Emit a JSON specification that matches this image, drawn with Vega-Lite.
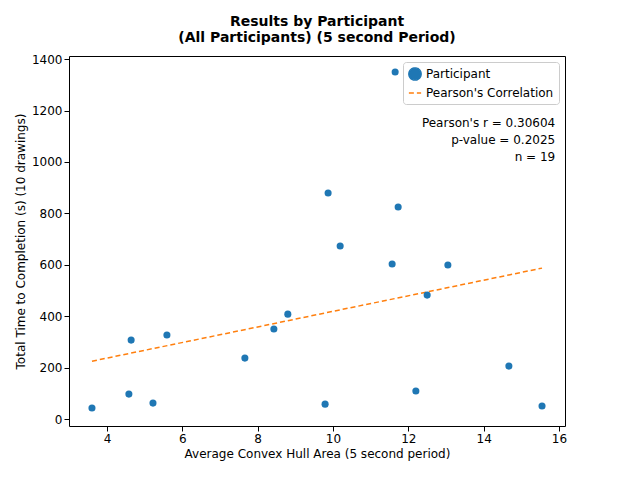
{
"$schema":"https://vega.github.io/schema/vega-lite/v6.json",
"width":496,"height":370,
"padding":{"left":14,"top":15,"right":60,"bottom":5},
"autosize":{"type":"pad"},
"config":{"font":"DejaVu Sans","view":{"stroke":"black"},"axis":{"grid":false,"domain":false,"tickColor":"black","labelColor":"black","titleColor":"black","labelFontSize":12,"titleFontSize":12,"titleFontWeight":"normal","labelFont":"DejaVu Sans","titleFont":"DejaVu Sans"}},
"title":{"text":["Results by Participant","(All Participants) (5 second Period)"],"fontSize":14,"font":"DejaVu Sans","fontWeight":"bold","color":"black","offset":8},
"datasets":{
"pts":[
{"x":3.60,"y":43},{"x":4.58,"y":97},{"x":4.64,"y":307},{"x":5.22,"y":62},{"x":5.59,"y":327},
{"x":7.66,"y":237},{"x":8.43,"y":350},{"x":8.80,"y":408},{"x":9.87,"y":879},{"x":9.79,"y":58},
{"x":10.19,"y":673},{"x":11.57,"y":603},{"x":11.73,"y":825},{"x":11.65,"y":1350},{"x":12.20,"y":109},
{"x":12.50,"y":482},{"x":13.05,"y":599},{"x":14.67,"y":206},{"x":15.55,"y":51}],
"fit":[{"x":3.60,"y":225},{"x":15.55,"y":587}]
},
"layer":[
{"data":{"name":"fit"},"mark":{"type":"line","strokeWidth":1.5},
"encoding":{"x":{"field":"x","type":"quantitative","scale":{"domain":[2.99,16.16],"nice":false,"zero":false},"axis":{"values":[4,6,8,10,12,14,16],"title":"Average Convex Hull Area (5 second period)"}},
"y":{"field":"y","type":"quantitative","scale":{"domain":[-27,1412],"nice":false},"axis":{"values":[0,200,400,600,800,1000,1200,1400],"format":"d","title":"Total Time to Completion (s) (10 drawings)"}},
"color":{"datum":"Pearson's Correlation","type":"nominal","scale":{"domain":["Participant","Pearson's Correlation"],"range":["#1f77b4","#ff7f0e"]},
"legend":{"title":null,"orient":"top-right","offset":6,"labelFontSize":12,"labelColor":"black","symbolSize":150,"strokeColor":"#cccccc","padding":5,"cornerRadius":3,"fillColor":"white","symbolStrokeWidth":1.5}},
"shape":{"datum":"Pearson's Correlation","type":"nominal","scale":{"domain":["Participant","Pearson's Correlation"],"range":["circle","stroke"]}},
"strokeDash":{"datum":"Pearson's Correlation","type":"nominal","scale":{"domain":["Participant","Pearson's Correlation"],"range":[[1,0],[5,3]]}}}},
{"data":{"name":"pts"},"mark":{"type":"point","filled":true,"size":50,"opacity":1},
"encoding":{"x":{"field":"x","type":"quantitative"},"y":{"field":"y","type":"quantitative"},
"color":{"datum":"Participant","type":"nominal"},
"shape":{"datum":"Participant","type":"nominal"}}},
{"data":{"values":[{"t":"Pearson's r = 0.30604","y":1150},{"t":"p-value = 0.2025","y":1085},{"t":"n = 19","y":1020}]},
"mark":{"type":"text","align":"right","fontSize":12,"color":"black","font":"DejaVu Sans"},
"encoding":{"x":{"datum":15.9,"type":"quantitative"},"y":{"field":"y","type":"quantitative"},"text":{"field":"t"}}}
]
}
